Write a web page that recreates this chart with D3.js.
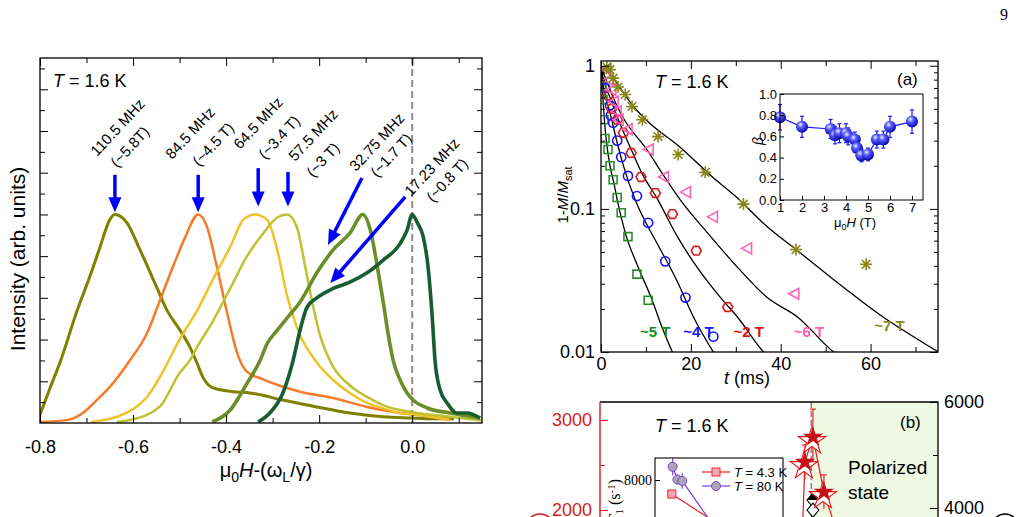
<!DOCTYPE html>
<html>
<head>
<meta charset="utf-8">
<title>Figure 9</title>
<script src="https://cdn.jsdelivr.net/npm/d3@7"></script>
<style>
    body { margin: 0; background: #fff; }
    svg { display: block; }
</style>
</head>
<body>
<svg id="fig" width="1020" height="517"></svg>
<script>
//------ Données ------
//spectres (panneau gauche) : μ0H-(ωL/γ) en T, intensité normalisée
const specNames = ["110.5 MHz", "84.5 MHz", "64.5 MHz", "57.5 MHz", "32.75 MHz", "17.23 MHz"]
const specFields = ["(~5.8T)", "(~4.5 T)", "(~3.4 T)", "(~3 T)", "(~1.7 T)", "(~0.8 T)"]

const spec110x = [-0.80,-0.778,-0.757,-0.72,-0.69,-0.67,-0.65,-0.639,-0.613,-0.585,-0.549,-0.527,-0.499,-0.478,-0.463,-0.45,-0.428,-0.385,-0.349,-0.278,-0.205,-0.134,-0.063,-0.005,0.05,0.09]
const spec110y = [0.04,0.17,0.29,0.54,0.72,0.85,0.975,1.0,0.96,0.83,0.65,0.54,0.445,0.365,0.29,0.22,0.168,0.15,0.144,0.11,0.077,0.048,0.03,0.024,0.02,0.02]
const spec84x = [-0.80,-0.74,-0.708,-0.678,-0.65,-0.607,-0.57,-0.542,-0.514,-0.488,-0.46,-0.441,-0.42,-0.398,-0.377,-0.355,-0.327,-0.241,-0.17,-0.097,-0.026,0.045,0.081]
const spec84y = [0.005,0.015,0.048,0.11,0.173,0.30,0.43,0.59,0.75,0.89,1.0,0.94,0.75,0.53,0.34,0.245,0.215,0.15,0.12,0.077,0.048,0.03,0.014]
const spec64x = [-0.69,-0.613,-0.57,-0.535,-0.5,-0.462,-0.428,-0.39,-0.363,-0.338,-0.312,-0.29,-0.27,-0.248,-0.205,-0.17,-0.134,-0.097,-0.063,-0.026,0.01,0.08]
const spec64y = [0.005,0.05,0.125,0.25,0.40,0.54,0.69,0.85,0.975,1.0,0.975,0.83,0.62,0.46,0.29,0.206,0.144,0.096,0.07,0.048,0.04,0.015]
const spec57x = [-0.635,-0.607,-0.542,-0.5,-0.478,-0.462,-0.428,-0.39,-0.355,-0.32,-0.29,-0.269,-0.248,-0.23,-0.215,-0.198,-0.17,-0.134,-0.097,-0.063,-0.026,0.01,0.081,0.15]
const spec57y = [0.005,0.014,0.08,0.24,0.30,0.365,0.49,0.65,0.8,0.91,0.985,1.0,0.94,0.75,0.58,0.42,0.27,0.18,0.125,0.086,0.062,0.048,0.03,0.012]
const spec32x = [-0.43,-0.392,-0.355,-0.327,-0.312,-0.29,-0.27,-0.241,-0.205,-0.17,-0.134,-0.106,-0.09,-0.075,-0.063,-0.052,-0.041,-0.026,-0.011,0.002,0.032,0.081,0.146]
const spec32y = [0.005,0.06,0.19,0.30,0.38,0.445,0.50,0.58,0.72,0.83,0.91,1.0,0.925,0.75,0.59,0.43,0.30,0.206,0.144,0.11,0.072,0.048,0.024]
const spec17x = [-0.331,-0.306,-0.278,-0.256,-0.241,-0.226,-0.205,-0.17,-0.134,-0.097,-0.063,-0.026,-0.011,0.0,0.011,0.024,0.034,0.043,0.049,0.06,0.075,0.096,0.118,0.146]
const spec17y = [0.005,0.048,0.144,0.30,0.446,0.556,0.60,0.645,0.675,0.72,0.78,0.86,0.925,1.0,0.96,0.89,0.75,0.51,0.30,0.158,0.096,0.048,0.048,0.024]
const xTicksSpec = [-0.8, -0.6, -0.4, -0.2, 0.0]

//relaxation (panneau a) : t en ms, 1-M/Msat
const relaxNames = ["~5 T", "~4 T", "~2 T", "~6 T", "~7 T"]
const t5T = [0.25,0.45,0.67,0.9,1.56,2.0,2.7,3.6,4.5,6.0,8.0,10.5]
const m5T = [0.72,0.58,0.42,0.31,0.26,0.2,0.16,0.12,0.094,0.064,0.035,0.023]
const t4T = [1.0,2.0,2.2,2.7,3.6,4.5,6.0,8.0,10.5,14.3,18.8,25]
const m4T = [0.7,0.53,0.45,0.40,0.30,0.23,0.17,0.123,0.08,0.043,0.024,0.0128]
const t2T = [1.6,2.4,3.6,5.0,6.7,8.9,12.1,15.9,21.2,28.2]
const m2T = [0.62,0.5,0.42,0.34,0.246,0.167,0.129,0.092,0.051,0.0206]
const t6T = [1.1,1.6,2.2,2.7,3.4,3.8,5.8,10.5,13.9,18.8,24.8,32.4,42.9]
const m6T = [0.95,0.8,0.68,0.56,0.48,0.42,0.36,0.26,0.167,0.131,0.088,0.053,0.0255]
const t7T = [1.3,2.0,2.7,3.8,5.4,6.9,9.2,12.7,17.2,23.2,31.7,43.4,59]
const m7T = [0.98,0.94,0.82,0.71,0.63,0.52,0.42,0.32,0.24,0.18,0.108,0.052,0.041]
//courbes d'ajustement
const fitT5T = [0,0.2,0.45,0.8,1.3,2,3,3.6,5.4,8.3,11.4,13.2,15.9,17]
const fitM5T = [1,0.75,0.58,0.4,0.28,0.2,0.145,0.116,0.068,0.039,0.023,0.016,0.01,0.0085]
const fitT4T = [0,0.3,1.1,2,3.6,5,7.6,10,12.4,17,20.6,25,27]
const fitM4T = [1,0.8,0.6,0.47,0.29,0.2,0.116,0.08,0.058,0.031,0.0175,0.01,0.008]
const fitT2T = [0,0.5,2,4,6.5,9,12.5,17,21.4,26.6,30.4,36.2,38]
const fitM2T = [1,0.82,0.6,0.41,0.27,0.18,0.118,0.064,0.039,0.024,0.0175,0.01,0.0088]
const fitT6T = [0,0.5,1.5,2.7,5,10.2,14,17.6,23.7,30.4,37,43.8,51.8,54]
const fitM6T = [1,0.9,0.75,0.6,0.43,0.26,0.17,0.116,0.068,0.039,0.024,0.0175,0.01,0.009]
const fitT7T = [0,1,2,3.5,5,7,10,17.6,25,30,37,43.4,51.8,62.3,74.2,76]
const fitM7T = [1,0.94,0.88,0.76,0.65,0.53,0.42,0.27,0.165,0.122,0.075,0.052,0.032,0.018,0.0104,0.0096]
const xTicksTime = [0, 20, 40, 60]

//encart (a) : exposant beta
const betaH = [1.0,2.0,3.3,3.5,3.7,4.0,4.1,4.4,4.5,4.7,5.0,5.4,5.7,6.0,7.0]
const betaVal = [0.78,0.69,0.67,0.61,0.63,0.63,0.60,0.57,0.49,0.42,0.43,0.57,0.57,0.69,0.74]
const betaErr = [0.12,0.1,0.09,0.08,0.09,0.09,0.08,0.07,0.07,0.06,0.06,0.08,0.08,0.1,0.11]
const betaTicks = [0, 0.2, 0.4, 0.6, 0.8, 1.0]
const fieldTicks = [1, 2, 3, 4, 5, 6, 7]

//panneau (b) : taux de relaxation
const starH = [4.75, 4.85, 5.04, 5.3, 5.99]
const starRate = [1200, 2533, 2811, 2200, 1200]
const starErr = [100, 190, 310, 190, 100]
const diamH = [4.95, 5.04, 5.04]
const diamRate = [3000, 4150, 3960]
const lowTH = [1.05, 4.7]
const lowTRate = [7680, 6820]
const highTH = [1.1, 1.4, 1.7, 4.1]
const highTRate = [8300, 8010, 7980, 6730]
const highTErr = [200, 120, 180, 150]
const rateTicksL = [2000, 3000]
const rateTicksR = [4000, 6000]

//------ Rendre la figure ------
const font = "'Liberation Sans', Arial, Helvetica, sans-serif"
const serif = "'Liberation Serif', 'Times New Roman', serif"
const svg = d3.select("#fig").attr("font-family", font)
const defs = svg.append("defs")

//style des axes : pas de ligne de domaine
function styleAxis(g, size, color) {
    g.select(".domain").remove()
    g.selectAll("line").attr("stroke", color || "#000").attr("stroke-width", 1)
    g.selectAll("text").attr("font-size", size).attr("font-family", font).attr("fill", color || "#000")
}

function clip(id, x, y, w, h) {
    defs.append("clipPath").attr("id", id)
        .append("rect").attr("x", x).attr("y", y).attr("width", w).attr("height", h)
}

//texte "T = ..." avec T en italique
function tText(g, x, y, size, rest) {
    const t = g.append("text").attr("x", x).attr("y", y).attr("font-size", size)
    t.append("tspan").attr("font-style", "italic").text("T")
    t.append("tspan").text(rest)
    return t
}

//flèche bleue
function arrow(g, p1, p2) {
    const dx = p2[0] - p1[0], dy = p2[1] - p1[1]
    const len = Math.hypot(dx, dy), ux = dx / len, uy = dy / len
    const hl = 15, hw = 6.5
    const bx = p2[0] - ux * hl, by = p2[1] - uy * hl
    g.append("line")
        .attr("x1", p1[0]).attr("y1", p1[1])
        .attr("x2", bx + ux * 2).attr("y2", by + uy * 2)
        .attr("stroke", "#0000ff").attr("stroke-width", 3.5)
    g.append("path")
        .attr("d", `M${p2[0]},${p2[1]}L${bx - uy * hw},${by + ux * hw}L${bx + uy * hw},${by - ux * hw}Z`)
        .attr("fill", "#0000ff")
}

//-- panneau gauche : spectres --
const xS = d3.scaleLinear().domain([-0.8, 0.15]).range([40, 482])
const yS = d3.scaleLinear().domain([0, 1.75]).range([423, 58])
clip("clipS", 40, 58, 442, 365)
const gS = svg.append("g")

gS.append("line")
    .attr("x1", xS(0)).attr("x2", xS(0)).attr("y1", 58).attr("y2", 423)
    .attr("stroke", "#8c8c8c").attr("stroke-width", 2).attr("stroke-dasharray", "7,4")

const specX = [spec110x, spec84x, spec64x, spec57x, spec32x, spec17x]
const specY = [spec110y, spec84y, spec64y, spec57y, spec32y, spec17y]
const specColors = ["#808000", "#f57a2a", "#efc327", "#c0c033", "#6b8e2b", "#185c32"]
const specWidth = [3, 2.5, 2.5, 2.5, 3.6, 3.6]
const specLine = d3.line().x(d => xS(d[0])).y(d => yS(d[1])).curve(d3.curveMonotoneX)

gS.append("g").attr("clip-path", "url(#clipS)")
    .selectAll("path")
    .data(specNames)
    .enter()
    .append("path")
    .attr("d", (d, i) => specLine(d3.zip(specX[i], specY[i])))
    .attr("fill", "none")
    .attr("stroke", (d, i) => specColors[i])
    .attr("stroke-width", (d, i) => specWidth[i])
    .attr("stroke-linejoin", "round")

//graduations
gS.append("g").attr("transform", "translate(0,423)")
    .call(d3.axisBottom(xS).tickValues(xTicksSpec).tickSize(-8).tickPadding(17).tickFormat(d => d.toFixed(1)))
    .call(g => styleAxis(g, 18))
gS.append("g").attr("transform", "translate(0,423)")
    .call(d3.axisBottom(xS).tickValues([-0.7, -0.5, -0.3, -0.1, 0.1]).tickSize(-5).tickFormat(""))
    .call(g => styleAxis(g, 18))
gS.append("g").attr("transform", "translate(0,58)")
    .call(d3.axisTop(xS).tickValues(xTicksSpec).tickSize(-8).tickFormat(""))
    .call(g => styleAxis(g, 18))
gS.append("g").attr("transform", "translate(0,58)")
    .call(d3.axisTop(xS).tickValues([-0.7, -0.5, -0.3, -0.1, 0.1]).tickSize(-5).tickFormat(""))
    .call(g => styleAxis(g, 18))
const yMajS = [0.2, 0.4, 0.6, 0.8, 1.0, 1.2, 1.4, 1.6]
const yMinS = [0.1, 0.3, 0.5, 0.7, 0.9, 1.1, 1.3, 1.5, 1.7]
gS.append("g").attr("transform", "translate(40,0)")
    .call(d3.axisLeft(yS).tickValues(yMajS).tickSize(-8).tickFormat(""))
    .call(g => styleAxis(g, 18))
gS.append("g").attr("transform", "translate(40,0)")
    .call(d3.axisLeft(yS).tickValues(yMinS).tickSize(-5).tickFormat(""))
    .call(g => styleAxis(g, 18))
gS.append("g").attr("transform", "translate(482,0)")
    .call(d3.axisRight(yS).tickValues(yMajS).tickSize(-8).tickFormat(""))
    .call(g => styleAxis(g, 18))
gS.append("g").attr("transform", "translate(482,0)")
    .call(d3.axisRight(yS).tickValues(yMinS).tickSize(-5).tickFormat(""))
    .call(g => styleAxis(g, 18))

gS.append("rect").attr("x", 40).attr("y", 58).attr("width", 442).attr("height", 365)
    .attr("fill", "none").attr("stroke", "#000").attr("stroke-width", 1.3)

//flèches et étiquettes (coordonnées des données)
const arrowFrom = [[-0.639, 1.19], [-0.46, 1.19], [-0.331, 1.222], [-0.267, 1.203], [-0.108, 1.175], [-0.015, 1.084]]
const arrowTo = [[-0.639, 1.01], [-0.46, 1.01], [-0.331, 1.038], [-0.267, 1.038], [-0.181, 0.854], [-0.176, 0.671]]
const label1At = [[-0.6775, 1.275], [-0.5163, 1.261], [-0.3702, 1.309], [-0.252, 1.251], [-0.1209, 1.203], [-0.0027, 1.083]]
const label2At = [[-0.6345, 1.222], [-0.4583, 1.227], [-0.3164, 1.261], [-0.2133, 1.175], [-0.0757, 1.175], [0.0446, 1.055]]
specNames.forEach((name, i) => {
    arrow(gS, [xS(arrowFrom[i][0]), yS(arrowFrom[i][1])], [xS(arrowTo[i][0]), yS(arrowTo[i][1])])
    gS.append("text")
        .attr("transform", `translate(${xS(label1At[i][0])},${yS(label1At[i][1])}) rotate(-47)`)
        .attr("font-size", 15).text(name)
    gS.append("text")
        .attr("transform", `translate(${xS(label2At[i][0])},${yS(label2At[i][1])}) rotate(-47)`)
        .attr("font-size", 15).text(specFields[i])
})

tText(gS, 53, 87, 18, " = 1.6 K")

gS.append("text")
    .attr("transform", "translate(25,259) rotate(-90)")
    .attr("text-anchor", "middle").attr("font-size", 21)
    .text("Intensity (arb. units)")

const xlab = gS.append("text").attr("x", 266).attr("y", 477).attr("text-anchor", "middle").attr("font-size", 20)
xlab.append("tspan").text("μ")
xlab.append("tspan").attr("font-size", 14).attr("dy", 5).text("0")
xlab.append("tspan").attr("dy", -5).attr("font-style", "italic").text("H")
xlab.append("tspan").text("-(ω")
xlab.append("tspan").attr("font-size", 14).attr("dy", 5).text("L")
xlab.append("tspan").attr("dy", -5).text("/γ)")

//-- panneau (a) : relaxation --
const xA = d3.scaleLinear().domain([0, 75]).range([601, 938])
const yA = d3.scaleLog().domain([0.01, 1.08]).range([352, 61])
clip("clipA", 601, 61, 337, 291)
const gA = svg.append("g")

const relaxColors = ["#2a8f2a", "#1515ff", "#dd1c1c", "#ff5fb4", "#87871a"]
const labelColors = ["#1a8a1a", "#1515ff", "#dd1010", "#ff5fb4", "#87871a"]
const fitT = [fitT5T, fitT4T, fitT2T, fitT6T, fitT7T]
const fitM = [fitM5T, fitM4T, fitM2T, fitM6T, fitM7T]
const dataT = [t5T, t4T, t2T, t6T, t7T]
const dataM = [m5T, m4T, m2T, m6T, m7T]
const fitLine = d3.line().x(d => xA(d[0])).y(d => yA(d[1])).curve(d3.curveMonotoneX)

const plotA = gA.append("g").attr("clip-path", "url(#clipA)")
plotA.selectAll("path.fit")
    .data(relaxNames)
    .enter()
    .append("path")
    .attr("class", "fit")
    .attr("d", (d, i) => fitLine(d3.zip(fitT[i], fitM[i])))
    .attr("fill", "none").attr("stroke", "#000").attr("stroke-width", 1.3)

//formes des marqueurs
const hexa = d3.range(6).map(k => [5 * Math.cos(k * Math.PI / 3), 5 * Math.sin(k * Math.PI / 3)])
const shapes = [
    "M-4,-4H4V4H-4Z",
    d3.symbol().type(d3.symbolCircle).size(66)(),
    "M" + hexa.join("L") + "Z",
    "M-5,0L5,-5.5L5,5.5Z",
    "M-6,0H6M0,-6V6M-4.3,-4.3L4.3,4.3M-4.3,4.3L4.3,-4.3"
]
relaxNames.forEach((name, i) => {
    plotA.append("g").selectAll("path")
        .data(d3.zip(dataT[i], dataM[i]))
        .enter()
        .append("path")
        .attr("transform", d => `translate(${xA(d[0])},${yA(d[1])})`)
        .attr("d", shapes[i])
        .attr("fill", "none")
        .attr("stroke", relaxColors[i])
        .attr("stroke-width", 1.6)
})

//étiquettes des champs
const relaxLabelAt = [[8.7, 0.0127], [18.3, 0.0127], [29.5, 0.0127], [42.9, 0.0127], [60.8, 0.014]]
relaxNames.forEach((name, i) => {
    gA.append("text")
        .attr("x", xA(relaxLabelAt[i][0])).attr("y", yA(relaxLabelAt[i][1]))
        .attr("font-size", 15).attr("font-weight", "bold")
        .attr("fill", labelColors[i]).text(name)
})

//graduations
const logMinor = [2, 3, 4, 5, 6, 7, 8, 9].map(k => k * 0.01).concat([2, 3, 4, 5, 6, 7, 8, 9].map(k => k * 0.1))
gA.append("g").attr("transform", "translate(601,0)")
    .call(d3.axisLeft(yA).tickValues([0.01, 0.1, 1]).tickSize(-8).tickPadding(6).tickFormat(d => String(d)))
    .call(g => styleAxis(g, 18))
gA.append("g").attr("transform", "translate(601,0)")
    .call(d3.axisLeft(yA).tickValues(logMinor).tickSize(-4).tickFormat(""))
    .call(g => styleAxis(g, 18))
gA.append("g").attr("transform", "translate(938,0)")
    .call(d3.axisRight(yA).tickValues([0.01, 0.1, 1]).tickSize(-8).tickFormat(""))
    .call(g => styleAxis(g, 18))
gA.append("g").attr("transform", "translate(938,0)")
    .call(d3.axisRight(yA).tickValues(logMinor).tickSize(-4).tickFormat(""))
    .call(g => styleAxis(g, 18))
gA.append("g").attr("transform", "translate(0,352)")
    .call(d3.axisBottom(xA).tickValues(xTicksTime).tickSize(-8).tickPadding(5).tickFormat(d3.format("d")))
    .call(g => styleAxis(g, 18))
gA.append("g").attr("transform", "translate(0,352)")
    .call(d3.axisBottom(xA).tickValues([10, 30, 50, 70]).tickSize(-5).tickFormat(""))
    .call(g => styleAxis(g, 18))
gA.append("g").attr("transform", "translate(0,61)")
    .call(d3.axisTop(xA).tickValues(xTicksTime).tickSize(-8).tickFormat(""))
    .call(g => styleAxis(g, 18))
gA.append("g").attr("transform", "translate(0,61)")
    .call(d3.axisTop(xA).tickValues([10, 30, 50, 70]).tickSize(-5).tickFormat(""))
    .call(g => styleAxis(g, 18))

gA.append("rect").attr("x", 601).attr("y", 61).attr("width", 337).attr("height", 291)
    .attr("fill", "none").attr("stroke", "#000").attr("stroke-width", 1.3)

tText(gA, 655, 88, 18, " = 1.6 K")
gA.append("text").attr("x", 897).attr("y", 85).attr("font-size", 17).text("(a)")

const tlab = gA.append("text").attr("x", 747).attr("y", 384).attr("text-anchor", "middle").attr("font-size", 18)
tlab.append("tspan").attr("font-style", "italic").text("t")
tlab.append("tspan").text(" (ms)")

const ylabA = gA.append("text").attr("transform", "translate(568,195) rotate(-90)")
    .attr("text-anchor", "middle").attr("font-size", 15)
ylabA.append("tspan").text("1-")
ylabA.append("tspan").attr("font-style", "italic").text("M")
ylabA.append("tspan").text("/")
ylabA.append("tspan").attr("font-style", "italic").text("M")
ylabA.append("tspan").attr("font-size", 11).attr("dy", 4).text("sat")

//-- encart (a) : beta --
const xI = d3.scaleLinear().domain([1, 7.5]).range([780, 923])
const yI = d3.scaleLinear().domain([0, 1]).range([200, 94])
const gI = svg.append("g")
gI.append("rect").attr("x", 780).attr("y", 94).attr("width", 143).attr("height", 106).attr("fill", "#fff")

const grad = defs.append("radialGradient").attr("id", "ball").attr("cx", "0.38").attr("cy", "0.32").attr("r", "0.7")
grad.append("stop").attr("offset", "0").attr("stop-color", "#eef0ff")
grad.append("stop").attr("offset", "0.35").attr("stop-color", "#5a5cff")
grad.append("stop").attr("offset", "1").attr("stop-color", "#0000a8")

const betaPts = d3.zip(betaH, betaVal, betaErr)
gI.append("path")
    .attr("d", d3.line().x(d => xI(d[0])).y(d => yI(d[1]))(betaPts))
    .attr("fill", "none").attr("stroke", "#1a1aff").attr("stroke-width", 1.2)
const bars = gI.append("g").attr("stroke", "#1a1aff").attr("stroke-width", 1.2)
betaPts.forEach(d => {
    bars.append("line").attr("x1", xI(d[0])).attr("x2", xI(d[0])).attr("y1", yI(d[1] - d[2])).attr("y2", yI(d[1] + d[2]))
    bars.append("line").attr("x1", xI(d[0]) - 2).attr("x2", xI(d[0]) + 2).attr("y1", yI(d[1] - d[2])).attr("y2", yI(d[1] - d[2]))
    bars.append("line").attr("x1", xI(d[0]) - 2).attr("x2", xI(d[0]) + 2).attr("y1", yI(d[1] + d[2])).attr("y2", yI(d[1] + d[2]))
})
gI.append("g").selectAll("circle")
    .data(betaPts)
    .enter()
    .append("circle")
    .attr("cx", d => xI(d[0])).attr("cy", d => yI(d[1])).attr("r", 6)
    .attr("fill", "url(#ball)")

gI.append("g").attr("transform", "translate(780,0)")
    .call(d3.axisLeft(yI).tickValues(betaTicks).tickSize(-4).tickPadding(3).tickFormat(d3.format(".1f")))
    .call(g => styleAxis(g, 13))
gI.append("g").attr("transform", "translate(0,200)")
    .call(d3.axisBottom(xI).tickValues(fieldTicks).tickSize(-4).tickPadding(3).tickFormat(d3.format("d")))
    .call(g => styleAxis(g, 13))
gI.append("rect").attr("x", 780).attr("y", 94).attr("width", 143).attr("height", 106)
    .attr("fill", "none").attr("stroke", "#000").attr("stroke-width", 1)

gI.append("text").attr("transform", "translate(763,141) rotate(-90)")
    .attr("text-anchor", "middle").attr("font-size", 14).attr("font-style", "italic").text("β")
const hlab = gI.append("text").attr("x", 855).attr("y", 227).attr("text-anchor", "middle").attr("font-size", 13)
hlab.append("tspan").text("μ")
hlab.append("tspan").attr("font-size", 9).attr("dy", 3).text("0")
hlab.append("tspan").attr("dy", -3).attr("font-style", "italic").text("H")
hlab.append("tspan").text(" (T)")

//-- panneau (b) : taux --
const xB = d3.scaleLinear().domain([0, 8]).range([600, 938])
const yBL = d3.scaleLinear().domain([0, 3200]).range([690, 402])
const yBR = d3.scaleLinear().domain([0, 6000]).range([720, 402])
clip("clipB", 600, 402, 338, 300)
const gB = svg.append("g")

gB.append("rect").attr("x", xB(5.0)).attr("y", 402).attr("width", 938 - xB(5.0)).attr("height", 300)
    .attr("fill", "#eef8e2")
gB.append("line").attr("x1", xB(5.0)).attr("x2", xB(5.0)).attr("y1", 402).attr("y2", 700)
    .attr("stroke", "#8c8c8c").attr("stroke-width", 1.6).attr("stroke-dasharray", "6,3")

const plotB = gB.append("g").attr("clip-path", "url(#clipB)")
//losanges (axe droit)
plotB.append("path")
    .attr("d", d3.line().x(d => xB(d[0])).y(d => yBR(d[1]))(d3.zip(diamH, diamRate)))
    .attr("fill", "none").attr("stroke", "#000").attr("stroke-width", 1.1)
d3.zip(diamH, diamRate).slice(1).forEach((d, i) => {
    const cx = xB(d[0]), cy = yBR(d[1])
    plotB.append("path").attr("d", `M${cx - 6},${cy}L${cx},${cy - 7}L${cx + 6},${cy}L${cx},${cy + 7}Z`)
        .attr("fill", "#fff").attr("stroke", "#000").attr("stroke-width", 1.1)
    if (i == 0) {
        plotB.append("path").attr("d", `M${cx - 6},${cy}L${cx},${cy - 7}L${cx + 6},${cy}Z`).attr("fill", "#000")
    }
})
//étoiles (axe gauche)
const starPts = d3.zip(starH, starRate, starErr)
plotB.append("path")
    .attr("d", d3.line().x(d => xB(d[0])).y(d => yBL(d[1]))(starPts))
    .attr("fill", "none").attr("stroke", "#e01a1a").attr("stroke-width", 1.2)
starPts.slice(1, 4).forEach(d => {
    const cx = xB(d[0])
    plotB.append("line").attr("x1", cx).attr("x2", cx).attr("y1", yBL(d[1] + d[2])).attr("y2", yBL(d[1] - d[2]))
        .attr("stroke", "#e01a1a").attr("stroke-width", 1.1)
    plotB.append("line").attr("x1", cx - 3).attr("x2", cx + 3).attr("y1", yBL(d[1] + d[2])).attr("y2", yBL(d[1] + d[2]))
        .attr("stroke", "#e01a1a").attr("stroke-width", 1.1)
})
plotB.append("g").selectAll("path")
    .data(starPts.slice(1, 4))
    .enter()
    .append("path")
    .attr("transform", d => `translate(${xB(d[0]) - 1},${yBL(d[1]) + 4})`)
    .attr("d", d3.symbol().type(d3.symbolStar).size(230)())
    .attr("fill", "#fff").attr("stroke", "#e01a1a").attr("stroke-width", 1.1)
plotB.append("g").selectAll("path")
    .data(starPts.slice(1, 4))
    .enter()
    .append("path")
    .attr("transform", d => `translate(${xB(d[0])},${yBL(d[1])})`)
    .attr("d", d3.symbol().type(d3.symbolStar).size(130)())
    .attr("fill", "#c8101a")

//axes (b)
gB.append("g").attr("transform", "translate(600,0)")
    .call(d3.axisLeft(yBL).tickValues(rateTicksL).tickSize(-8).tickPadding(8).tickFormat(d3.format("d")))
    .call(g => styleAxis(g, 18, "#d41a1a"))
gB.append("g").attr("transform", "translate(600,0)")
    .call(d3.axisLeft(yBL).tickValues([2500]).tickSize(-5).tickFormat(""))
    .call(g => styleAxis(g, 18, "#d41a1a"))
gB.append("g").attr("transform", "translate(938,0)")
    .call(d3.axisRight(yBR).tickValues(rateTicksR).tickSize(-8).tickPadding(6).tickFormat(d3.format("d")))
    .call(g => styleAxis(g, 18))
gB.append("g").attr("transform", "translate(938,0)")
    .call(d3.axisRight(yBR).tickValues([5000]).tickSize(-5).tickFormat(""))
    .call(g => styleAxis(g, 18))
gB.append("path").attr("d", "M600,402H938V700").attr("fill", "none").attr("stroke", "#000").attr("stroke-width", 1.3)
gB.append("line").attr("x1", 600).attr("x2", 600).attr("y1", 402).attr("y2", 700)
    .attr("stroke", "#d41a1a").attr("stroke-width", 1.4)

tText(gB, 655, 432, 18, " = 1.6 K")
gB.append("text").attr("x", 900).attr("y", 428).attr("font-size", 17).text("(b)")
gB.append("text").attr("x", 848).attr("y", 474).attr("font-size", 19).text("Polarized")
gB.append("text").attr("x", 848).attr("y", 499).attr("font-size", 19).text("state")

gB.append("circle").attr("cx", 540).attr("cy", 528).attr("r", 14)
    .attr("fill", "none").attr("stroke", "#d41a1a").attr("stroke-width", 1.5)
gB.append("circle").attr("cx", 1005).attr("cy", 527).attr("r", 13)
    .attr("fill", "none").attr("stroke", "#000").attr("stroke-width", 1.5)

//-- encart (b) --
const xJ = d3.scaleLinear().domain([0, 8]).range([655, 783])
const yJ = d3.scaleLinear().domain([5000, 8500]).range([612, 458])
clip("clipJ", 655, 458, 128, 200)
const gJ = svg.append("g")
gJ.append("rect").attr("x", 655).attr("y", 458).attr("width", 128).attr("height", 200).attr("fill", "#fff")
const plotJ = gJ.append("g").attr("clip-path", "url(#clipJ)")
plotJ.append("path")
    .attr("d", d3.line().x(d => xJ(d[0])).y(d => yJ(d[1]))(d3.zip(lowTH, lowTRate)))
    .attr("fill", "none").attr("stroke", "#ee2222").attr("stroke-width", 1.2)
plotJ.append("path")
    .attr("d", d3.line().x(d => xJ(d[0])).y(d => yJ(d[1]))(d3.zip(highTH, highTRate)))
    .attr("fill", "none").attr("stroke", "#8040e0").attr("stroke-width", 1.2)
d3.zip(highTH, highTRate, highTErr).slice(0, 3).forEach(d => {
    plotJ.append("line").attr("x1", xJ(d[0])).attr("x2", xJ(d[0]))
        .attr("y1", yJ(d[1] - d[2])).attr("y2", yJ(d[1] + d[2]))
        .attr("stroke", "#8040e0").attr("stroke-width", 1.1)
})
plotJ.append("g").selectAll("circle")
    .data(d3.zip(highTH, highTRate).slice(0, 3))
    .enter()
    .append("circle")
    .attr("cx", d => xJ(d[0])).attr("cy", d => yJ(d[1])).attr("r", 4.5)
    .attr("fill", "#a8a8b0").attr("stroke", "#8040e0").attr("stroke-width", 1)
plotJ.append("rect").attr("x", xJ(lowTH[0]) - 4).attr("y", yJ(lowTRate[0]) - 4).attr("width", 8).attr("height", 8)
    .attr("fill", "#f7a8b8").attr("stroke", "#ee2222").attr("stroke-width", 1)

gJ.append("g").attr("transform", "translate(655,0)")
    .call(d3.axisLeft(yJ).tickValues([8000]).tickSize(-5).tickPadding(3).tickFormat(d3.format("d")))
    .call(g => styleAxis(g, 14))
    .call(g => g.selectAll("text").attr("font-family", serif))
gJ.append("rect").attr("x", 655).attr("y", 458).attr("width", 128).attr("height", 200)
    .attr("fill", "none").attr("stroke", "#000").attr("stroke-width", 1.1)

//légende de l'encart
const legY = [472, 486]
const legCol = ["#ee2222", "#8040e0"]
const legTxt = [" = 4.3 K", " = 80 K"]
legY.forEach((y, i) => {
    gJ.append("line").attr("x1", 702).attr("x2", 730).attr("y1", y).attr("y2", y)
        .attr("stroke", legCol[i]).attr("stroke-width", 1.2)
    if (i == 0) {
        gJ.append("rect").attr("x", 712).attr("y", y - 4).attr("width", 8).attr("height", 8)
            .attr("fill", "#f7a8b8").attr("stroke", "#ee2222")
    } else {
        gJ.append("circle").attr("cx", 716).attr("cy", y).attr("r", 4.5)
            .attr("fill", "#a8a8b0").attr("stroke", "#8040e0")
    }
    tText(gJ, 734, y + 5, 13, legTxt[i])
})

const rlab = gJ.append("text").attr("transform", "translate(620,479) rotate(-90)")
    .attr("text-anchor", "end").attr("font-family", serif).attr("font-size", 16)
rlab.append("tspan").text("1/")
rlab.append("tspan").attr("font-style", "italic").text("T")
rlab.append("tspan").attr("font-size", 11).attr("dy", 3).text("1")
rlab.append("tspan").attr("dy", -3).text(" (s")
rlab.append("tspan").attr("font-size", 11).attr("dy", -5).text("-1")
rlab.append("tspan").attr("dy", 5).text(")")

//-- textes de page --
svg.append("text").attr("x", 1000).attr("y", 20).attr("font-family", serif).attr("font-size", 16).text("9")
svg.append("text").attr("x", 77).attr("y", 525).attr("font-family", serif).attr("font-size", 11).text("81")
</script>
</body>
</html>
